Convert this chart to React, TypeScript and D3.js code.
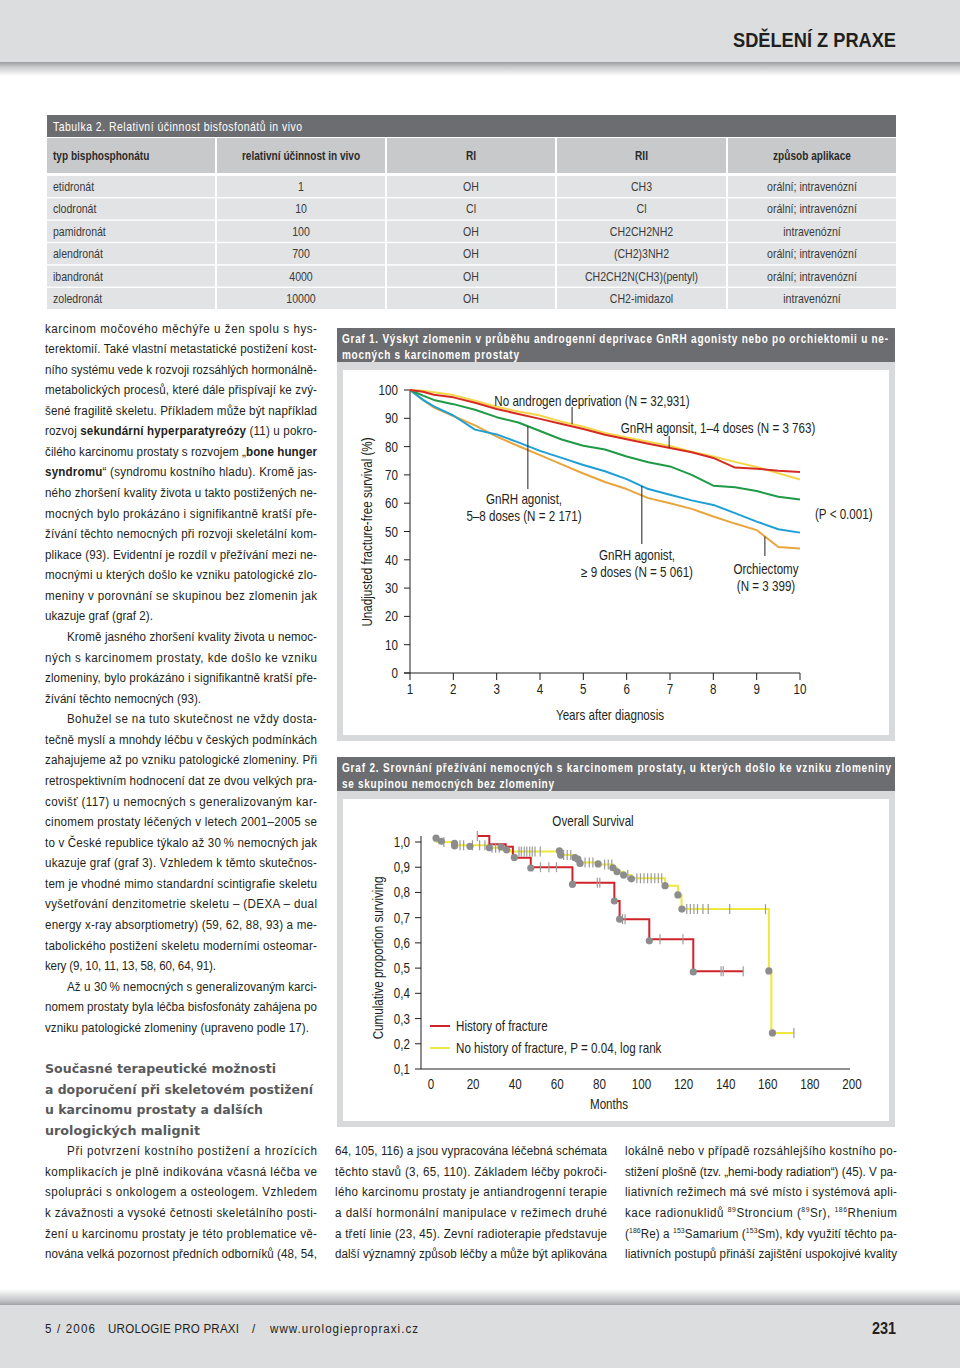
import React from 'react';
import * as d3 from 'd3';

const SANS = "'Liberation Sans', Arial, Helvetica, sans-serif";
const HEAD_FONT = "'DejaVu Sans','Verdana',sans-serif";

// ---------- Table 2 ----------
const tableTitle = 'Tabulka 2. Relativní účinnost bisfosfonátů in vivo';
const tableHeaders = ['typ bisphosphonátu', 'relativní účinnost in vivo', 'RI', 'RII', 'způsob aplikace'];
const drugs = ['etidronát', 'clodronát', 'pamidronát', 'alendronát', 'ibandronát', 'zoledronát'];
const potency = ['1', '10', '100', '700', '4000', '10000'];
const groupR1 = ['OH', 'Cl', 'OH', 'OH', 'OH', 'OH'];
const groupR2 = ['CH3', 'Cl', 'CH2CH2NH2', '(CH2)3NH2', 'CH2CH2N(CH3)(pentyl)', 'CH2-imidazol'];
const routes = ['orální; intravenózní', 'orální; intravenózní', 'intravenózní', 'orální; intravenózní', 'orální; intravenózní', 'intravenózní'];

// ---------- Graf 1 ----------
const g1Title = ['Graf 1. Výskyt zlomenin v průběhu androgenní deprivace GnRH agonisty nebo po orchiektomii u ne-', 'mocných s karcinomem prostaty'];
const g1Years = [1, 1.3, 1.55, 2, 2.5, 3, 3.5, 4, 4.5, 5, 5.5, 6, 6.5, 7, 7.5, 8, 8.5, 9, 9.5, 10];
const g1NoADT = [100, 99.7, 99.2, 98.2, 96.2, 94.1, 92.4, 91, 88.8, 87, 84.8, 83.2, 81.7, 80.2, 78.2, 76.5, 74.6, 72.8, 70.6, 68.4];
const g1Gnrh14 = [100, 99.4, 98.3, 97.4, 95.5, 93.3, 91.5, 89.8, 88, 86.2, 84.2, 82.6, 81, 79.5, 78, 76, 72.6, 72.2, 71.5, 71];
const g1Gnrh58 = [100, 98, 96.5, 95, 93, 90.4, 88.5, 85.5, 82.5, 80.3, 79, 76.5, 74.5, 73, 70, 66.2, 65.6, 64.3, 62.3, 61.3];
const g1Gnrh9 = [100, 96.5, 94.2, 91, 86, 84.3, 81.5, 78.5, 76, 73.5, 71.3, 68.5, 65, 63, 61, 59.4, 56.5, 53.5, 50.8, 49.6];
const g1Orchi = [100, 96.5, 93.8, 90.8, 87.5, 83.5, 80.2, 77, 73.7, 70.5, 67.5, 65, 61.8, 60, 58, 55.3, 52.8, 50.5, 44.5, 44];
const g1YTicks = [0, 10, 20, 30, 40, 50, 60, 70, 80, 90, 100];
const g1XTicks = [1, 2, 3, 4, 5, 6, 7, 8, 9, 10];

// ---------- Graf 2 ----------
const g2Title = ['Graf 2. Srovnání přežívání nemocných s karcinomem prostaty, u kterých došlo ke vzniku zlomeniny', 'se skupinou nemocných bez zlomeniny'];
const fracTimes = [22, 27.7, 35.5, 38.9, 47.4, 67.2, 87.1, 89.6, 103.7, 124.6];
const fracSurv = [1.024, 0.991, 0.981, 0.938, 0.9, 0.838, 0.766, 0.694, 0.614, 0.488];
const fracEnd = 148.3;
const fracCensor = [22, 52, 56, 59.6, 79, 80.2, 91, 92.2, 108.8, 119.7, 137.8, 138.8, 148.3];
const noFracTimes = [2.4, 11.2, 27.7, 34.1, 37.5, 61.3, 68.4, 70.8, 79.4, 86.4, 88.4, 91.5, 95.2, 111.2, 117.3, 119, 160.5, 161.7];
const noFracSurv = [1.0, 0.987, 0.977, 0.968, 0.962, 0.948, 0.935, 0.919, 0.911, 0.898, 0.882, 0.869, 0.856, 0.827, 0.79, 0.734, 0.488, 0.243];
const noFracEnd = 172.4;
const noFracCensor = [6.1, 13.8, 15.5, 19.7, 23.1, 25.6, 29, 30.7, 32.4, 41.8, 42.9, 44.3, 45.5, 46.9, 48.1, 49.4, 51.9, 63, 64.7, 66.4, 73.2, 75.2, 76.9, 82.5, 84.2, 85.9, 93.5, 97.8, 99.5, 101.2, 102.9, 104.6, 106.3, 108, 109.6, 121.5, 123.2, 124.9, 126.6, 129.2, 131.7, 141.9, 158.9, 172.4];
const eventTimes = [2.4, 4.9, 11.2, 11.2, 18.5, 27.7, 33.3, 35.9, 39.6, 47.4, 61, 61.6, 68.4, 69.8, 70.8, 79.4, 86.4, 88.4, 91.5, 95.2, 67.2, 87.1, 89.6, 103.7, 111.2, 117.3, 119.2, 124.6, 160.5, 162.2];
const eventSurv = [1.015, 1.003, 0.995, 0.985, 0.983, 0.977, 0.98, 0.969, 0.939, 0.897, 0.965, 0.948, 0.938, 0.932, 0.915, 0.913, 0.898, 0.882, 0.869, 0.854, 0.832, 0.766, 0.694, 0.608, 0.827, 0.79, 0.734, 0.485, 0.489, 0.243];
const g2YTicks = [0.1, 0.2, 0.3, 0.4, 0.5, 0.6, 0.7, 0.8, 0.9, 1.0];
const g2XTicks = [0, 20, 40, 60, 80, 100, 120, 140, 160, 180, 200];

// ---------- Body text ----------
const leftCol = [
  'karcinom močového měchýře u žen spolu s hys-',
  'terektomií. Také vlastní metastatické postižení kost-',
  'ního systému vede k rozvoji rozsáhlých hormonálně-',
  'metabolických procesů, které dále přispívají ke zvý-',
  'šené fragilitě skeletu. Příkladem může být například',
  'rozvoj *sekundární hyperparatyreózy* (11) u pokro-',
  'čilého karcinomu prostaty s rozvojem „*bone hunger*',
  '*syndromu*“ (syndromu kostního hladu). Kromě jas-',
  'ného zhoršení kvality života u takto postižených ne-',
  'mocných bylo prokázáno i signifikantně kratší pře-',
  'žívání těchto nemocných při rozvoji skeletální kom-',
  'plikace (93). Evidentní je rozdíl v přežívání mezi ne-',
  'mocnými u kterých došlo ke vzniku patologické zlo-',
  'meniny v porovnání se skupinou bez zlomenin jak',
  'ukazuje graf (graf 2).',
  '¶Kromě jasného zhoršení kvality života u nemoc-',
  'ných s karcinomem prostaty, kde došlo ke vzniku',
  'zlomeniny, bylo prokázáno i signifikantně kratší pře-',
  'žívání těchto nemocných (93).',
  '¶Bohužel se na tuto skutečnost ne vždy dosta-',
  'tečně myslí a mnohdy léčbu v českých podmínkách',
  'zahajujeme až po vzniku patologické zlomeniny. Při',
  'retrospektivním hodnocení dat ze dvou velkých pra-',
  'covišť (117) u nemocných s generalizovaným kar-',
  'cinomem prostaty léčených v letech 2001–2005 se',
  'to v České republice týkalo až 30\u202F% nemocných jak',
  'ukazuje graf (graf 3). Vzhledem k těmto skutečnos-',
  'tem je vhodné mimo standardní scintigrafie skeletu',
  'vyšetřování denzitometrie skeletu – (DEXA – dual',
  'energy x-ray absorptiometry) (59, 62, 88, 93) a me-',
  'tabolického postižení skeletu moderními osteomar-',
  'kery (9, 10, 11, 13, 58, 60, 64, 91).',
  '¶Až u 30\u202F% nemocných s generalizovaným karci-',
  'nomem prostaty byla léčba bisfosfonáty zahájena po',
  'vzniku patologické zlomeniny (upraveno podle 17).',
  '',
  '#Současné terapeutické možnosti',
  '#a doporučení při skeletovém postižení',
  '#u karcinomu prostaty a dalších',
  '#urologických malignit',
  '¶Při potvrzení kostního postižení a hrozících',
  'komplikacích je plně indikována včasná léčba ve',
  'spolupráci s onkologem a osteologem. Vzhledem',
  'k závažnosti a vysoké četnosti skeletálního posti-',
  'žení u karcinomu prostaty je této problematice vě-',
  'nována velká pozornost předních odborníků (48, 54,',
];
// measured widths of the lines that are not justified
const leftNatural: Record<number, number> = { 14: 108, 18: 156, 31: 171, 34: 264, 36: 231, 37: 268, 38: 218, 39: 155 };
const midCol = [
  '64, 105, 116) a jsou vypracována léčebná schémata',
  'těchto stavů (3, 65, 110). Základem léčby pokroči-',
  'lého karcinomu prostaty je antiandrogenní terapie',
  'a další hormonální manipulace v režimech druhé',
  'a třetí linie (23, 45). Zevní radioterapie představuje',
  'další významný způsob léčby a může být aplikována',
];
const rightCol = [
  'lokálně nebo v případě rozsáhlejšího kostního po-',
  'stižení plošně (tzv. „hemi-body radiation“) (45). V pa-',
  'liativních režimech má své místo i systémová apli-',
  'kace radionuklidů ^89^Stroncium (^89^Sr), ^186^Rhenium',
  '(^186^Re) a ^153^Samarium (^153^Sm), kdy využití těchto pa-',
  'liativních postupů přináší zajištění uspokojivé kvality',
];

type Seg = { s: string; b: boolean; sup: boolean };
function parse(t: string): Seg[] {
  const out: Seg[] = [];
  let b = false, sup = false, cur = '';
  for (const ch of t) {
    if (ch === '*' || ch === '^') {
      if (cur) out.push({ s: cur, b, sup });
      cur = '';
      if (ch === '*') b = !b; else sup = !sup;
    } else cur += ch;
  }
  if (cur) out.push({ s: cur, b, sup });
  return out;
}

// condensed text: regular sans squeezed horizontally
type TP = {
  x: number; y: number; sx?: number; size?: number; anchor?: 'start' | 'middle' | 'end';
  weight?: string; fill?: string; w?: number; adjust?: string; rotate?: number; children?: React.ReactNode; family?: string;
};
function T({ x, y, sx = 0.83, size = 14, anchor = 'start', weight, fill = '#231f20', w, adjust = 'spacing', rotate, children, family = SANS }: TP) {
  const tr = `translate(${x},${y})${rotate ? ` rotate(${rotate})` : ''} scale(${sx},1)`;
  return (
    <text transform={tr} textAnchor={anchor} fontFamily={family} fontSize={size} fontWeight={weight} fill={fill}
      textLength={w ? w / sx : undefined} lengthAdjust={w ? adjust : undefined}>
      {children}
    </text>
  );
}

const BODY_SX = 0.86;
function Line({ x, cy, w, text }: { x: number; cy: number; w: number; text: string }) {
  const segs = parse(text);
  let prevSup = false;
  return (
    <T x={x} y={cy + 4.5} sx={BODY_SX} size={13.5} w={w}>
      {segs.map((g, i) => {
        let dy: number | undefined;
        if (g.sup && !prevSup) dy = -5;
        else if (!g.sup && prevSup) dy = 5;
        prevSup = g.sup;
        return (
          <tspan key={i} dy={dy} fontWeight={g.b ? 'bold' : undefined} fontSize={g.sup ? 8 : undefined}>{g.s}</tspan>
        );
      })}
    </T>
  );
}

const LINE0 = 328;
const LSTEP = 20.57;

function GrafFrame({ top, bottom, title, widths }: { top: number; bottom: number; title: string[]; widths: number[] }) {
  return (
    <g>
      <rect x={337} y={top} width={558} height={34} fill="#6c6d70" />
      <rect x={337} y={top + 34} width={558} height={bottom - top - 34} fill="#d8d9db" />
      <rect x={343} y={top + 42} width={546} height={bottom - top - 48} fill="#ffffff" />
      {title.map((t, i) => (
        <T key={i} x={342} y={top + 15 + i * 16} sx={0.8} size={12.5} weight="bold" fill="#ffffff" w={widths[i]}>{t}</T>
      ))}
    </g>
  );
}

export default function App() {
  // Graf 1 scales
  const x1 = d3.scaleLinear().domain([1, 10]).range([410, 800]);
  const y1 = d3.scaleLinear().domain([0, 100]).range([673, 390]);
  const mk = (vals: number[]) => d3.line<number>().x((_, i) => x1(g1Years[i])).y((d) => y1(d))(vals) || '';
  const interp = (vals: number[], yr: number) => {
    const i = d3.bisectRight(g1Years, yr) - 1;
    const j = Math.min(i + 1, g1Years.length - 1);
    const t = j === i ? 0 : (yr - g1Years[i]) / (g1Years[j] - g1Years[i]);
    return vals[i] + t * (vals[j] - vals[i]);
  };
  const series1 = [
    { v: g1Orchi, c: '#e8a53c' },
    { v: g1Gnrh9, c: '#1d9fd6' },
    { v: g1Gnrh58, c: '#1f9a47' },
    { v: g1NoADT, c: '#f4d648' },
    { v: g1Gnrh14, c: '#d62b24' },
  ];

  // Graf 2 scales
  const x2 = d3.scaleLinear().domain([0, 200]).range([431, 852]);
  const y2 = d3.scaleLinear().domain([0.1, 1.0]).range([1069, 842]);
  const step = d3.line<[number, number]>().x((d) => x2(d[0])).y((d) => y2(d[1])).curve(d3.curveStepAfter);
  const km = (times: number[], surv: number[], end: number) => {
    const pts: [number, number][] = times.map((t, i) => [t, surv[i]]);
    pts.push([end, surv[surv.length - 1]]);
    return step(pts) || '';
  };
  const survAt = (times: number[], surv: number[], t: number) => {
    const i = Math.max(0, d3.bisectRight(times, t) - 1);
    return surv[i];
  };
  const red2 = '#cf232a';
  const yel2 = '#eee83f';
  const ink = '#231f20';

  return (
    <svg width={960} height={1368} style={{ position: 'absolute', left: 0, top: 0, background: '#fff' }}>
      <defs>
        <linearGradient id="hdr" x1="0" y1="0" x2="0" y2="1">
          <stop offset="0" stopColor="#9c9da0" />
          <stop offset="0.35" stopColor="#c9cacc" />
          <stop offset="1" stopColor="#ffffff" />
        </linearGradient>
        <linearGradient id="ftr" x1="0" y1="0" x2="0" y2="1">
          <stop offset="0" stopColor="#ffffff" />
          <stop offset="0.65" stopColor="#c9cacc" />
          <stop offset="1" stopColor="#a3a4a7" />
        </linearGradient>
      </defs>
      <rect x={0} y={0} width={960} height={1368} fill="#ffffff" />

      {/* header */}
      <rect x={0} y={0} width={960} height={62} fill="#dcdddf" />
      <rect x={0} y={62} width={960} height={14} fill="url(#hdr)" />
      <T x={896} y={47} sx={0.88} size={20} weight="900" anchor="end" w={163} adjust="spacingAndGlyphs" fill="#1f1f20">SDĚLENÍ Z PRAXE</T>

      {/* footer */}
      <rect x={0} y={1289} width={960} height={16} fill="url(#ftr)" />
      <rect x={0} y={1305} width={960} height={63} fill="#dcdddf" />
      <T x={45} y={1333} sx={0.86} size={13.5} w={50}>5 / 2006</T>
      <T x={108} y={1333} sx={0.86} size={13.5} w={131}>UROLOGIE PRO PRAXI</T>
      <T x={252} y={1333} sx={0.86} size={13.5}>/</T>
      <T x={270} y={1333} sx={0.86} size={13.5} w={148}>www.urologiepropraxi.cz</T>
      <T x={896} y={1334} sx={0.85} size={17} weight="bold" anchor="end">231</T>

      {/* table */}
      <rect x={47} y={115} width={849} height={22} fill="#6c6d70" />
      <T x={53} y={130.5} sx={0.87} size={12} fill="#ffffff" w={249}>{tableTitle}</T>
      {[47, 217, 387, 557, 728].map((cx, ci) => {
        const w = [168, 168, 168, 169, 168][ci];
        const cols = [drugs, potency, groupR1, groupR2, routes][ci];
        const center = cx + w / 2;
        return (
          <g key={ci}>
            <rect x={cx} y={138} width={w} height={35} fill="#c8c9cb" />
            <T x={ci === 0 ? 53 : center} y={160} sx={0.84} size={12} weight="bold" anchor={ci === 0 ? 'start' : 'middle'} fill="#2a2a2a">{tableHeaders[ci]}</T>
            {cols.map((v, ri) => (
              <g key={ri}>
                <rect x={cx} y={176 + ri * 22.4} width={w} height={21} fill="#e2e3e4" />
                <T x={ci === 0 ? 53 : center} y={191 + ri * 22.4} sx={0.88} size={12} anchor={ci === 0 ? 'start' : 'middle'} fill="#3a3a3a">{v}</T>
              </g>
            ))}
          </g>
        );
      })}

      {/* left column text */}
      {leftCol.map((t, i) => {
        if (!t) return null;
        const cy = LINE0 + i * LSTEP;
        if (t.startsWith('#')) {
          return (
            <text key={i} x={45} y={cy + 4.5} textLength={leftNatural[i]} lengthAdjust="spacingAndGlyphs" fontFamily={HEAD_FONT} fontWeight="bold" fontSize={13} fill="#58595b">{t.slice(1)}</text>
          );
        }
        const indent = t.startsWith('¶');
        const txt = indent ? t.slice(1) : t;
        const x = indent ? 67 : 45;
        const w = leftNatural[i] ?? 317 - x;
        return <Line key={i} x={x} cy={cy} w={w} text={txt} />;
      })}
      {midCol.map((t, i) => <Line key={'m' + i} x={335} cy={LINE0 + (40 + i) * LSTEP} w={272} text={t} />)}
      {rightCol.map((t, i) => <Line key={'r' + i} x={625} cy={LINE0 + (40 + i) * LSTEP} w={272} text={t} />)}

      {/* Graf 1 */}
      <GrafFrame top={328} bottom={741} title={g1Title} widths={[546, 177]} />
      <g>
        <line x1={x1(1)} x2={x1(1)} y1={y1(100)} y2={y1(0)} stroke={ink} strokeWidth={1} />
        <line x1={404} x2={x1(10)} y1={y1(0)} y2={y1(0)} stroke={ink} strokeWidth={1} />
        {g1YTicks.map((t) => (
          <g key={t}>
            <line x1={404} x2={410} y1={y1(t)} y2={y1(t)} stroke={ink} />
            <T x={398} y={y1(t) + 5} anchor="end">{t}</T>
          </g>
        ))}
        {g1XTicks.map((t) => (
          <g key={t}>
            <line x1={x1(t)} x2={x1(t)} y1={y1(0)} y2={y1(0) + 7} stroke={ink} />
            <T x={x1(t)} y={694} anchor="middle">{t}</T>
          </g>
        ))}
        <T x={610} y={720} anchor="middle">Years after diagnosis</T>
        <T x={372} y={532} rotate={-90} anchor="middle">Unadjusted fracture-free survival (%)</T>
        {series1.map((s, i) => (
          <path key={i} d={mk(s.v)} fill="none" stroke={s.c} strokeWidth={2} strokeLinejoin="round" />
        ))}
        {/* leaders */}
        <line x1={x1(4.74)} x2={x1(4.74)} y1={407} y2={y1(interp(g1NoADT, 4.74))} stroke={ink} />
        <line x1={x1(6.98)} x2={x1(6.98)} y1={436} y2={y1(interp(g1Gnrh14, 6.98))} stroke={ink} />
        <line x1={x1(3.72)} x2={x1(3.72)} y1={y1(interp(g1Gnrh58, 3.72))} y2={489} stroke={ink} />
        <line x1={x1(6.35)} x2={x1(6.35)} y1={y1(interp(g1Gnrh9, 6.35))} y2={544} stroke={ink} />
        <line x1={x1(9.19)} x2={x1(9.19)} y1={y1(interp(g1Orchi, 9.19))} y2={556} stroke={ink} />
        <T x={592} y={406} anchor="middle">No androgen deprivation (N = 32,931)</T>
        <T x={718} y={433} anchor="middle">GnRH agonsit, 1–4 doses (N = 3 763)</T>
        <T x={524} y={504} anchor="middle">GnRH agonist,</T>
        <T x={524} y={521} anchor="middle">5–8 doses (N = 2 171)</T>
        <T x={637} y={560} anchor="middle">GnRH agonist,</T>
        <T x={637} y={577} anchor="middle">≥ 9 doses (N = 5 061)</T>
        <T x={766} y={574} anchor="middle">Orchiectomy</T>
        <T x={766} y={591} anchor="middle">(N = 3 399)</T>
        <T x={815} y={519}>(P &lt; 0.001)</T>
      </g>

      {/* Graf 2 */}
      <GrafFrame top={757} bottom={1127} title={g2Title} widths={[549, 212]} />
      <g>
        <line x1={421} x2={421} y1={836} y2={1069} stroke={ink} />
        <line x1={421} x2={850} y1={1069} y2={1069} stroke={ink} />
        {g2YTicks.map((t) => (
          <g key={t}>
            <line x1={415} x2={421} y1={y2(t)} y2={y2(t)} stroke={ink} />
            <T x={410} y={y2(t) + 5} anchor="end">{t.toFixed(1).replace('.', ',')}</T>
          </g>
        ))}
        {g2XTicks.map((t) => (
          <T key={t} x={x2(t)} y={1089} anchor="middle">{t}</T>
        ))}
        <T x={609} y={1109} anchor="middle">Months</T>
        <T x={593} y={826} anchor="middle">Overall Survival</T>
        <T x={383} y={958} rotate={-90} anchor="middle">Cumulative proportion surviving</T>
        <path d={km(noFracTimes, noFracSurv, noFracEnd)} fill="none" stroke={yel2} strokeWidth={2} />
        <path d={km(fracTimes, fracSurv, fracEnd)} fill="none" stroke={red2} strokeWidth={2} />
        {noFracCensor.map((t, i) => {
          const yy = y2(survAt(noFracTimes, noFracSurv, t));
          return <line key={'y' + i} x1={x2(t)} x2={x2(t)} y1={yy - 5} y2={yy + 5} stroke="#9b9b9b" strokeWidth={1.2} />;
        })}
        {fracCensor.map((t, i) => {
          const yy = y2(survAt(fracTimes, fracSurv, t));
          return <line key={'r' + i} x1={x2(t)} x2={x2(t)} y1={yy - 5} y2={yy + 5} stroke="#9b9b9b" strokeWidth={1.2} />;
        })}
        {eventTimes.map((t, i) => (
          <circle key={'e' + i} cx={x2(t)} cy={y2(eventSurv[i])} r={3.6} fill="#8d8d8d" />
        ))}
        <line x1={430} x2={450} y1={1026} y2={1026} stroke={red2} strokeWidth={2} />
        <T x={456} y={1031}>History of fracture</T>
        <line x1={430} x2={450} y1={1048} y2={1048} stroke={yel2} strokeWidth={2} />
        <T x={456} y={1053}>No history of fracture, P = 0.04, log rank</T>
      </g>
    </svg>
  );
}
